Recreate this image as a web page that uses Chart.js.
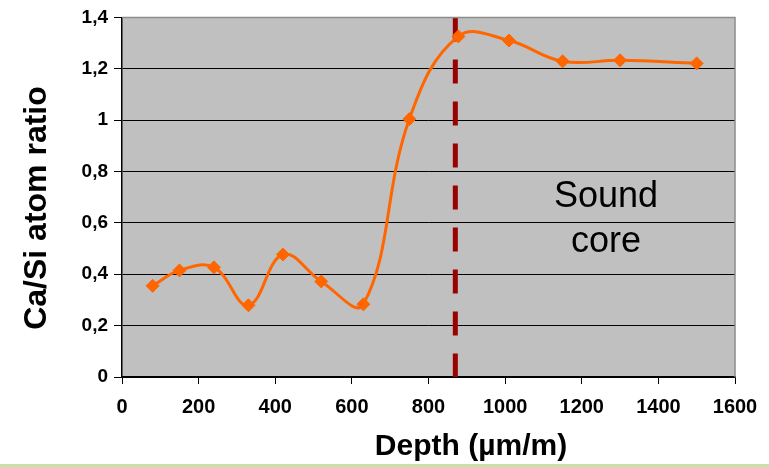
<!DOCTYPE html>
<html>
<head>
<meta charset="utf-8">
<script src="https://cdn.jsdelivr.net/npm/chart.js@4/dist/chart.umd.min.js"></script>
<style>
  html, body { margin: 0; padding: 0; background: #ffffff; }
  #wrap { position: relative; width: 769px; height: 467px; }
  #footer { position: absolute; left: 0; top: 464px; width: 769px; height: 3px; background: #c4e4a4; }
</style>
</head>
<body>
<div id="wrap">
  <canvas id="chart" width="769" height="464"></canvas>
  <div id="footer"></div>
</div>
<script>
// Ca/Si atom ratio measured along the depth profile
const depths = [80, 150, 240, 330, 420, 520, 630, 750, 878, 1010, 1150, 1300, 1500];
const caSiRatio = [0.355, 0.415, 0.427, 0.279, 0.477, 0.372, 0.283, 1.004, 1.326, 1.31, 1.229, 1.233, 1.221];
const yTickLabels = ['0', '0,2', '0,4', '0,6', '0,8', '1', '1,2', '1,4'];
const xTickLabels = ['0', '200', '400', '600', '800', '1000', '1200', '1400', '1600'];
const soundCoreDepth = 870;
const annotationLines = ['Sound', 'core'];

const FONT = "'Liberation Sans', Arial, Helvetica, sans-serif";

const decor = {
  id: 'decor',
  beforeDraw(chart) {
    const { ctx, chartArea: a } = chart;
    ctx.save();
    ctx.fillStyle = '#c0c0c0';
    ctx.fillRect(a.left, a.top, a.right - a.left, a.bottom - a.top);
    ctx.restore();
  },
  beforeDatasetsDraw(chart) {
    const { ctx, chartArea: a, scales } = chart;
    // boundary of the sound core
    const x = scales.x.getPixelForValue(soundCoreDepth);
    ctx.save();
    ctx.strokeStyle = '#990000';
    ctx.lineWidth = 5;
    ctx.setLineDash([24, 18]);
    ctx.beginPath();
    ctx.moveTo(x, a.top);
    ctx.lineTo(x, a.bottom);
    ctx.stroke();
    ctx.restore();

    // plot frame on the top and right
    ctx.save();
    ctx.strokeStyle = '#8c8c8c';
    ctx.lineWidth = 1.5;
    ctx.beginPath();
    ctx.moveTo(a.left, a.top);
    ctx.lineTo(a.right, a.top);
    ctx.lineTo(a.right, a.bottom);
    ctx.stroke();
    ctx.restore();

    // annotation text
    ctx.save();
    ctx.fillStyle = '#000000';
    ctx.font = '36px ' + FONT;
    ctx.textAlign = 'center';
    ctx.textBaseline = 'alphabetic';
    ctx.fillText(annotationLines[0], 606, 207);
    ctx.fillText(annotationLines[1], 606, 252);
    ctx.restore();
  },
  afterDraw(chart) {
    const { ctx } = chart;
    ctx.save();
    ctx.fillStyle = '#000000';
    ctx.font = 'bold 30px ' + FONT;
    ctx.textAlign = 'center';
    ctx.textBaseline = 'alphabetic';
    ctx.fillText('Depth (µm/m)', 471, 455);
    ctx.translate(46, 208);
    ctx.rotate(-Math.PI / 2);
    ctx.font = 'bold 32px ' + FONT;
    ctx.fillText('Ca/Si atom ratio', 0, 0);
    ctx.restore();
  }
};

new Chart(document.getElementById('chart'), {
  type: 'line',
  data: {
    datasets: [{
      data: depths.map((d, i) => ({ x: d, y: caSiRatio[i] })),
      borderColor: '#ff6600',
      backgroundColor: '#ff6600',
      borderWidth: 3,
      tension: 0.4,
      pointStyle: 'rectRot',
      pointRadius: 6.5,
      pointBorderWidth: 1,
      pointBorderColor: '#ff6600',
      pointBackgroundColor: '#ff6600',
      fill: false
    }]
  },
  options: {
    responsive: false,
    animation: false,
    devicePixelRatio: 1,
    layout: { padding: { top: 16, right: 34, left: 0, bottom: 0 } },
    plugins: { legend: { display: false }, tooltip: { enabled: false } },
    scales: {
      x: {
        type: 'linear',
        min: 0, max: 1600,
        afterFit(scale) { scale.height = 87; },
        afterBuildTicks(scale) {
          scale.ticks = xTickLabels.map(v => ({ value: Number(v) }));
        },
        ticks: {
          callback: (v, i) => xTickLabels[i],
          color: '#000000',
          font: { family: FONT, size: 20, weight: 'bold' },
          padding: 11,
          maxRotation: 0,
          autoSkip: false
        },
        grid: { drawOnChartArea: false, drawTicks: true, tickLength: 7, color: '#000000', lineWidth: 1 },
        border: { display: true, color: '#000000', width: 1.5 }
      },
      y: {
        type: 'linear',
        min: 0, max: 1.4,
        afterFit(scale) { scale.width = 122; },
        afterBuildTicks(scale) {
          scale.ticks = yTickLabels.map((_, i) => ({ value: i * 0.2 }));
        },
        ticks: {
          callback: (v, i) => yTickLabels[i],
          color: '#000000',
          font: { family: FONT, size: 19, weight: 'bold' },
          padding: 6,
          autoSkip: false
        },
        grid: { drawOnChartArea: true, drawTicks: true, tickLength: 8, color: '#000000', lineWidth: 1 },
        border: { display: true, color: '#000000', width: 1.5 }
      }
    }
  },
  plugins: [decor]
});
</script>
</body>
</html>
